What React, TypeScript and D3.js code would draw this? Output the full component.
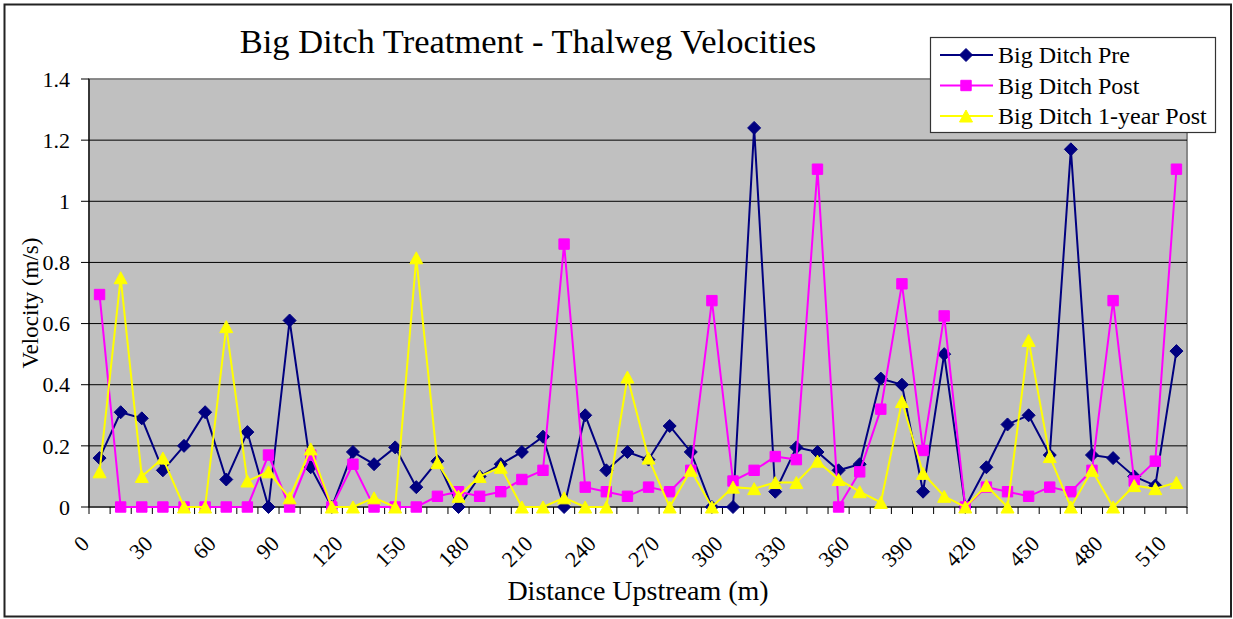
import React from 'react';
import * as d3 from 'd3';

// distance upstream (m), one category every 10 m
const distances = [
  0, 10, 20, 30, 40, 50, 60, 70, 80, 90, 100, 110, 120, 130, 140, 150, 160, 170, 180, 190,
  200, 210, 220, 230, 240, 250, 260, 270, 280, 290, 300, 310, 320, 330, 340, 350, 360, 370,
  380, 390, 400, 410, 420, 430, 440, 450, 460, 470, 480, 490, 500, 510,
];

const pre = [
  0.16, 0.31, 0.29, 0.12, 0.2, 0.31, 0.09, 0.245, 0, 0.61, 0.13, 0, 0.18, 0.14, 0.195, 0.065,
  0.15, 0, 0.1, 0.14, 0.18, 0.23, 0, 0.3, 0.12, 0.18, 0.155, 0.265, 0.18, 0, 0, 1.24, 0.05,
  0.195, 0.18, 0.12, 0.14, 0.42, 0.4, 0.05, 0.5, 0, 0.13, 0.27, 0.3, 0.17, 1.17, 0.17, 0.16,
  0.1, 0.07, 0.51,
];

const post = [
  0.695, 0, 0, 0, 0, 0, 0, 0, 0.17, 0, 0.17, 0, 0.14, 0, 0, 0, 0.035, 0.05, 0.035, 0.05, 0.09,
  0.12, 0.86, 0.065, 0.05, 0.035, 0.065, 0.05, 0.12, 0.675, 0.085, 0.12, 0.165, 0.155, 1.105,
  0, 0.115, 0.32, 0.73, 0.185, 0.625, 0, 0.065, 0.05, 0.035, 0.065, 0.05, 0.12, 0.675, 0.085,
  0.15, 1.105,
];

const yearPost = [
  0.115, 0.75, 0.1, 0.16, 0, 0, 0.59, 0.085, 0.115, 0.03, 0.19, 0, 0, 0.03, 0, 0.815, 0.145,
  0.035, 0.1, 0.13, 0, 0, 0.03, 0, 0, 0.425, 0.16, 0, 0.12, 0, 0.065, 0.06, 0.08, 0.08, 0.15,
  0.09, 0.05, 0.015, 0.345, 0.11, 0.035, 0, 0.07, 0, 0.545, 0.165, 0, 0.12, 0, 0.07, 0.06, 0.08,
];

const yTicks = [0, 0.2, 0.4, 0.6, 0.8, 1, 1.2, 1.4];
const xLabels = [0, 30, 60, 90, 120, 150, 180, 210, 240, 270, 300, 330, 360, 390, 420, 450, 480, 510];

const seriesNames = ['Big Ditch Pre', 'Big Ditch Post', 'Big Ditch 1-year Post'];
const seriesColors = ['#000080', '#FF00FF', '#FFFF00'];

const W = 1233;
const H = 619;
const FONT = "'Liberation Serif', 'Times New Roman', serif";

// marker outlines, centred on the point
const markerPath = (kind, cx, cy) => {
  if (kind === 0) {
    const r = 6.5;
    return `M${cx},${cy - r}L${cx + r},${cy}L${cx},${cy + r}L${cx - r},${cy}Z`;
  }
  if (kind === 1) {
    const s = 5.2;
    return `M${cx - s},${cy - s}H${cx + s}V${cy + s}H${cx - s}Z`;
  }
  const hw = 6.5;
  const hh = 6;
  return `M${cx},${cy - hh}L${cx + hw},${cy + hh}L${cx - hw},${cy + hh}Z`;
};

const App = () => {
  const plot = { left: 89, top: 79, right: 1187, bottom: 507 };

  const x = d3
    .scaleBand()
    .domain(distances.map(String))
    .range([plot.left, plot.right])
    .paddingInner(0)
    .paddingOuter(0);

  const y = d3.scaleLinear().domain([0, 1.4]).range([plot.bottom, plot.top]);

  const cx = (d) => x(String(d)) + x.bandwidth() / 2;

  const line = d3
    .line()
    .x((d) => cx(d.dist))
    .y((d) => y(d.v));

  const allSeries = [pre, post, yearPost].map((vals) =>
    vals.map((v, i) => ({ dist: distances[i], v }))
  );

  const boundaries = distances.map((d) => x(String(d))).concat([plot.right]);
  const txt = { fontFamily: FONT };

  return (
    <div style={{ position: 'fixed', left: 0, top: 0 }}>
      <svg width={W} height={H} style={{ display: 'block', background: '#fff' }}>
        {/* outer chart frame */}
        <rect x={4.5} y={4.5} width={1226.5} height={612} fill="#fff" stroke="#222" strokeWidth={2} />

        {/* title */}
        <text x={528} y={53} textAnchor="middle" fontSize={34.5} fill="#000" style={txt}>
          Big Ditch Treatment - Thalweg Velocities
        </text>

        {/* plot area */}
        <rect
          x={plot.left}
          y={plot.top}
          width={plot.right - plot.left}
          height={plot.bottom - plot.top}
          fill="#C0C0C0"
          stroke="#808080"
          strokeWidth={1.8}
        />

        {/* gridlines */}
        {yTicks
          .filter((t) => t > 0 && t < 1.4)
          .map((t) => (
            <line key={t} x1={plot.left} x2={plot.right} y1={y(t)} y2={y(t)} stroke="#000" strokeWidth={1} />
          ))}

        {/* y axis */}
        <line x1={plot.left} x2={plot.left} y1={plot.top} y2={plot.bottom} stroke="#000" strokeWidth={1.2} />
        {yTicks.map((t) => (
          <g key={t}>
            <line x1={plot.left - 8} x2={plot.left} y1={y(t)} y2={y(t)} stroke="#000" strokeWidth={1} />
            <text x={70} y={y(t)} dy="0.35em" textAnchor="end" fontSize={22} fill="#000" style={txt}>
              {String(+t.toFixed(1))}
            </text>
          </g>
        ))}
        <text
          transform={`translate(38,303) rotate(-90)`}
          textAnchor="middle"
          fontSize={23}
          fill="#000"
          style={txt}
        >
          Velocity (m/s)
        </text>

        {/* x axis */}
        <line x1={plot.left} x2={plot.right} y1={plot.bottom} y2={plot.bottom} stroke="#000" strokeWidth={1.2} />
        {boundaries.map((bx, i) => (
          <line key={i} x1={bx} x2={bx} y1={plot.bottom} y2={plot.bottom + 7} stroke="#000" strokeWidth={1} />
        ))}
        {xLabels.map((d) => (
          <text
            key={d}
            transform={`translate(${cx(d) - 9},${plot.bottom + 38}) rotate(-45)`}
            textAnchor="end"
            fontSize={22}
            fill="#000"
            style={txt}
          >
            {d}
          </text>
        ))}
        <text x={638} y={600} textAnchor="middle" fontSize={28} fill="#000" style={txt}>
          Distance Upstream (m)
        </text>

        {/* series: line first, then markers */}
        {allSeries.map((pts, k) => (
          <g key={k}>
            <path d={line(pts)} fill="none" stroke={seriesColors[k]} strokeWidth={2} />
            {pts.map((p, i) => (
              <path key={i} d={markerPath(k, cx(p.dist), y(p.v))} fill={seriesColors[k]} stroke={seriesColors[k]} strokeWidth={1} />
            ))}
          </g>
        ))}

        {/* legend */}
        <rect x={930.5} y={37.5} width={285} height={95} fill="#fff" stroke="#333" strokeWidth={1.2} />
        {seriesNames.map((name, k) => {
          const ly = 55 + k * 30.5;
          return (
            <g key={name}>
              <line x1={940} x2={993} y1={ly} y2={ly} stroke={seriesColors[k]} strokeWidth={2} />
              <path d={markerPath(k, 966, ly)} fill={seriesColors[k]} stroke={seriesColors[k]} strokeWidth={1} />
              <text x={998} y={ly} dy="0.35em" fontSize={24} fill="#000" style={txt}>
                {name}
              </text>
            </g>
          );
        })}
      </svg>
    </div>
  );
};

export default App;
